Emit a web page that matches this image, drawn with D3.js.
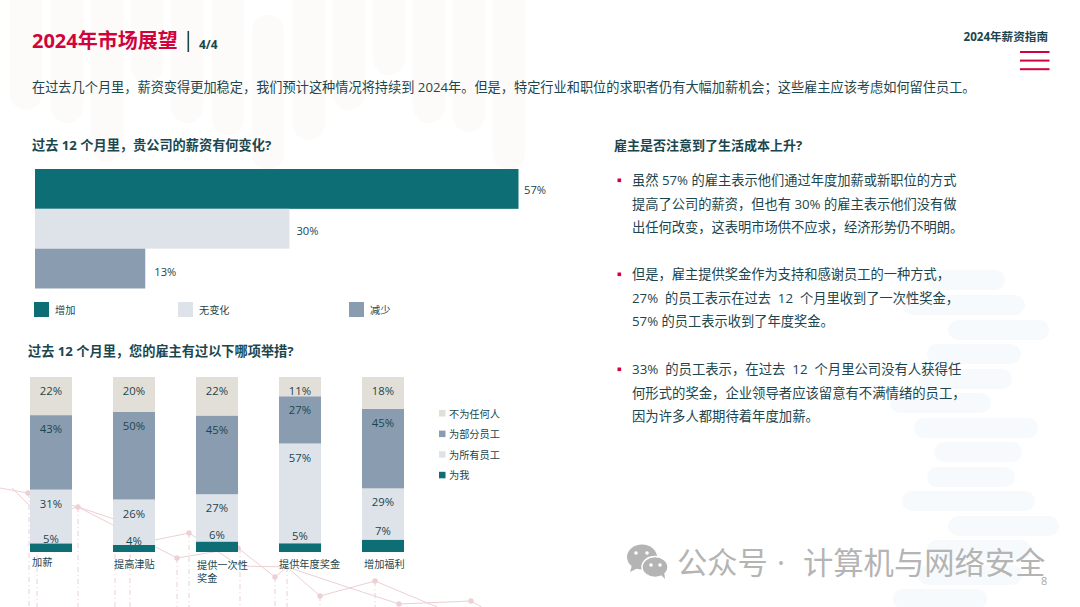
<!DOCTYPE html>
<html><head><meta charset="utf-8">
<script src="https://cdn.jsdelivr.net/npm/d3@7/dist/d3.min.js"></script>
<style>
html,body{margin:0;padding:0;background:#fff}
svg{display:block}
text{font-family:"Open Sans","Noto Sans CJK SC",sans-serif;fill:#1b464e}
</style></head><body><svg id="c" width="1080" height="607"></svg>
<script>
// ---- chart data ----
const changeCategories = ["增加","无变化","减少"];
const changeValues = [57,30,13];
const actionCategories = ["加薪","提高津贴","提供一次性奖金","提供年度奖金","增加福利"];
const seriesNames = ["为我","为所有员工","为部分员工","不为任何人"];
const forMe = [5,4,6,5,7];
const forAll = [31,26,27,57,29];
const forSome = [43,50,45,27,45];
const forNone = [22,20,22,11,18];
const smallLabelLift = [4,4,6.5,7,9];
const changeLabelGap = [5.5,7,9];
const changeLabelDrop = [0,1,2.5];

// ---- page text ----
const paragraphs = [
 ["虽然 57% 的雇主表示他们通过年度加薪或新职位的方式","提高了公司的薪资，但也有 30% 的雇主表示他们没有做","出任何改变，这表明市场供不应求，经济形势仍不明朗。"],
 ["但是，雇主提供奖金作为支持和感谢员工的一种方式，","27%  的员工表示在过去  12  个月里收到了一次性奖金，","57% 的员工表示收到了年度奖金。"],
 ["33%  的员工表示，在过去  12  个月里公司没有人获得任","何形式的奖金，企业领导者应该留意有不满情绪的员工，","因为许多人都期待着年度加薪。"]
];

// ---- decoration ----
const creamPills = [[10,110],[51,123],[91,162],[131,83],[171,123],[212,135],[252,170],[293,140],[333,110],[373,75],[413,123],[453,132],[493,170]];
const bluePills = [[927,1005,270],[902,1025,295],[948,1049,320],[927,1021,344],[918,1012,369],[890,991,393],[914,1038,418],[934,1022,442],[927,1015,467],[902,1035,491],[948,1059,516],[927,1031,540],[918,1022,565],[893,987,589]];
const pinkLineA = [[0,488],[28,493],[78,507],[177,558],[238,548],[275,577],[287,567],[320,596],[375,581],[437,607]];
const pinkLineB = [[12,488],[40,516],[78,507],[120,521],[150,541],[189,533],[240,566],[287,567],[350,588],[399,604],[471,601],[490,612]];
const pinkDots = [[28,493],[78,507],[177,558],[189,533],[238,548],[275,577],[320,596],[375,581],[399,604],[471,601]];
const pinkDrops = [29,37,78,115,130,177,189,240,275,287,320,375];

const teal="#0d6e76", light="#dee3ea", mid="#8a9db0", beige="#e2dfd8", red="#d0043c", ink="#1b464e";
const svg=d3.select("#c");

// background
svg.append("g").selectAll("rect").data(creamPills).join("rect")
 .attr("x",d=>d[0]).attr("y",(d,i)=>i===6?15:-40).attr("width",32).attr("rx",16)
 .attr("height",(d,i)=>d[1]-(i===6?15:-40)).attr("fill","#fdfbf9");
svg.append("g").selectAll("rect").data(bluePills).join("rect")
 .attr("x",d=>d[0]).attr("y",d=>d[2]).attr("width",d=>d[1]-d[0]).attr("height",20).attr("rx",10)
 .attr("fill","#f6fafc");

const deco=svg.append("g").attr("stroke","#ecd0d3").attr("fill","none");
const ln=d3.line();
deco.append("path").attr("d",ln(pinkLineA)).attr("stroke-width",1);
deco.append("path").attr("d",ln(pinkLineB)).attr("stroke-width",1);
deco.selectAll("line").data(pinkDrops).join("line")
 .attr("x1",d=>d).attr("x2",d=>d).attr("y1",d=>{const p=pinkDots.find(q=>Math.abs(q[0]-d)<4);return p?p[1]:(d<40?495:d<140?530:(d>360?598:567));}).attr("y2",607)
 .attr("stroke-width",1).attr("stroke-dasharray","5 3 1 3");
svg.append("g").selectAll("circle").data(pinkDots).join("circle")
 .attr("cx",d=>d[0]).attr("cy",d=>d[1]).attr("r",2.7).attr("fill","#ecd0d3");

// header
svg.append("text").attr("x",32).attr("y",48).attr("font-size",20).attr("font-weight",700).style("fill",red).text("2024年市场展望");
svg.append("rect").attr("x",187.5).attr("y",31).attr("width",1.6).attr("height",21).attr("fill",ink);
svg.append("text").attr("x",199).attr("y",49).attr("font-size",12).attr("font-weight",700).text("4/4");
svg.append("text").attr("x",1048).attr("y",41).attr("text-anchor","end").attr("font-size",11.6).attr("font-weight",700).text("2024年薪资指南");
svg.append("g").selectAll("rect").data(d3.range(3)).join("rect")
 .attr("x",1020).attr("y",d=>51+d*8.6).attr("width",29.5).attr("height",2).attr("fill",red);
svg.append("text").attr("x",32).attr("y",92).attr("font-size",13.19)
 .text("在过去几个月里，薪资变得更加稳定，我们预计这种情况将持续到 2024年。但是，特定行业和职位的求职者仍有大幅加薪机会；这些雇主应该考虑如何留住员工。");

// horizontal bars
svg.append("text").attr("x",32).attr("y",150).attr("font-size",13.2).attr("font-weight",700).text("过去 12 个月里，贵公司的薪资有何变化?");
const xH=d3.scaleLinear().domain([0,57]).range([35,518.5]);
const yH=d3.scaleBand().domain(changeCategories).range([169,288.5]).padding(0);
const colH=d3.scaleOrdinal().domain(changeCategories).range([teal,light,mid]);
const rowsH=changeCategories.map((c,i)=>({c,v:changeValues[i],i}));
svg.append("g").selectAll("rect").data(rowsH).join("rect")
 .attr("x",xH(0)).attr("y",d=>yH(d.c)).attr("width",d=>xH(d.v)-xH(0)).attr("height",yH.bandwidth()).attr("fill",d=>colH(d.c));
svg.append("g").selectAll("text").data(rowsH).join("text")
 .attr("x",d=>xH(d.v)+changeLabelGap[d.i]).attr("y",d=>yH(d.c)+yH.bandwidth()/2+5+changeLabelDrop[d.i]).attr("font-size",11.2).text(d=>d.v+"%");
const legX=d3.scaleOrdinal().domain(changeCategories).range([34,178,349]);
const legH=svg.append("g").selectAll("g").data(changeCategories).join("g").attr("transform",d=>`translate(${legX(d)},302)`);
legH.append("rect").attr("width",15).attr("height",15).attr("fill",d=>colH(d));
legH.append("text").attr("x",21).attr("y",12).attr("font-size",10.2).text(d=>d);

// stacked columns
svg.append("text").attr("x",28).attr("y",356).attr("font-size",13.2).attr("font-weight",700).text("过去 12 个月里，您的雇主有过以下哪项举措?");
const rows=actionCategories.map((c,i)=>({c,i,[seriesNames[0]]:forMe[i],[seriesNames[1]]:forAll[i],[seriesNames[2]]:forSome[i],[seriesNames[3]]:forNone[i]}));
const stacked=d3.stack().keys(seriesNames).offset(d3.stackOffsetExpand)(rows);
const xS=d3.scalePoint().domain(actionCategories).range([30,362]);
const yS=d3.scaleLinear().domain([0,1]).range([552,377]);
const colS=d3.scaleOrdinal().domain(seriesNames).range([teal,light,mid,beige]);
const bw=42;
stacked.forEach(s=>{
 svg.append("g").selectAll("rect").data(s).join("rect")
  .attr("x",d=>xS(d.data.c)).attr("y",d=>yS(d[1])).attr("width",bw).attr("height",d=>yS(d[0])-yS(d[1])).attr("fill",colS(s.key));
});
stacked.forEach((s,si)=>{
 svg.append("g").selectAll("text").data(s).join("text")
  .attr("x",d=>xS(d.data.c)+bw/2).attr("text-anchor","middle").attr("font-size",11.3)
  .attr("y",d=>si===0?yS(d[1])-smallLabelLift[d.data.i]+4:(si===3?395:yS(d[1])+18))
  .text(d=>d.data[s.key]+"%");
});
// category labels
const catG=svg.append("g").attr("font-size",10.2);
const catY=[566,568,569,568,568];
const catOffset=[2,1,1,0,2];
catG.selectAll("text").data(actionCategories).join("text")
 .attr("x",(d,i)=>xS(d)+catOffset[i]).attr("y",(d,i)=>catY[i])
 .each(function(d){
   const parts=d==="提供一次性奖金"?["提供一次性","奖金"]:[d];
   const t=d3.select(this),x=t.attr("x");
   parts.forEach((p,k)=>t.append("tspan").attr("x",x).attr("dy",k?12.5:0).text(p));
 });
// right legend
const legOrder=seriesNames.slice().reverse();
const legS=svg.append("g").selectAll("g").data(legOrder).join("g").attr("transform",(d,i)=>`translate(439,${410+i*20.6})`);
legS.append("rect").attr("width",6.5).attr("height",6.5).attr("fill",d=>colS(d));
legS.append("text").attr("x",10).attr("y",7.5).attr("font-size",10.2).text(d=>d);

// right column
svg.append("text").attr("x",614).attr("y",150).attr("font-size",13).attr("font-weight",700).text("雇主是否注意到了生活成本上升?");
const baseY=[185,279,374];
paragraphs.forEach((p,i)=>{
 svg.append("rect").attr("x",617.5).attr("y",baseY[i]-6.5).attr("width",3.6).attr("height",3.6).attr("fill",red);
 p.forEach((l,k)=>svg.append("text").attr("x",632).attr("y",baseY[i]+k*23.7).attr("font-size",i===2?13.35:13.25).style("white-space","pre").text(l));
});

// page number + watermark
svg.append("text").attr("x",1041).attr("y",585).attr("font-size",11).style("fill","#a9a9a9").text("8");
const wm=svg.append("g").attr("fill","#b4b4b4");
wm.append("ellipse").attr("cx",642).attr("cy",557).attr("rx",15).attr("ry",12.5);
wm.append("path").attr("d","M632 565 l-2 7 l8 -4z");
wm.append("ellipse").attr("cx",655).attr("cy",567).attr("rx",13).attr("ry",10.5).attr("stroke","#fff").attr("stroke-width",1.5);
wm.append("path").attr("d","M660 574 l5 5 l-1 -8z");
[[636,553],[647,553],[651,565],[660,565]].forEach(p=>wm.append("circle").attr("cx",p[0]).attr("cy",p[1]).attr("r",1.8).attr("fill","#fff"));
const wmText=[["公众号",677,"'Noto Sans CJK SC'"],["·",777,"'Open Sans'"],["计算机与网络安全",803,"'Noto Sans CJK SC'"]];
svg.append("g").selectAll("text").data(wmText).join("text").attr("x",d=>d[1]).attr("y",574).attr("font-size",30.3)
 .style("fill","#b4b4b4").style("font-family",d=>d[2]).text(d=>d[0]);
</script></body></html>
